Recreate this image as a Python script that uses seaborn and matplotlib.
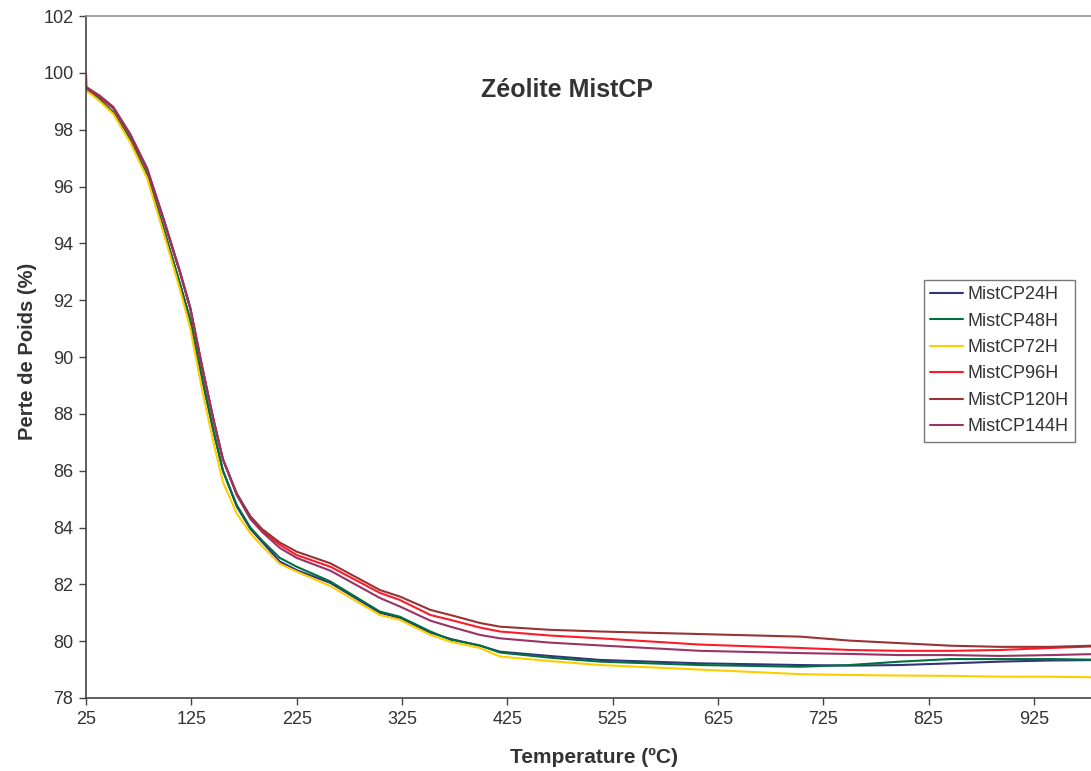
import matplotlib
matplotlib.use("Agg")
import matplotlib.pyplot as plt
import seaborn as sns
import pandas as pd

# ---- data ----
temps = [25, 38, 51, 67, 83, 98, 114, 124, 136, 146, 155, 168, 181, 192, 209, 225,
         257, 304, 323, 352, 371, 399, 418, 465, 513, 608, 703, 750, 798, 846, 893, 940, 1000]

s24 = [99.40, 99.05, 98.60, 97.65, 96.40, 94.60, 92.60, 91.30, 89.10, 87.40, 86.00, 84.75, 83.95, 83.50, 82.80, 82.50,
       82.05, 81.00, 80.82, 80.30, 80.08, 79.84, 79.63, 79.48, 79.34, 79.22, 79.16, 79.14, 79.16, 79.22, 79.28, 79.32, 79.34]
s48 = [99.40, 99.05, 98.60, 97.65, 96.40, 94.60, 92.60, 91.30, 89.10, 87.40, 86.00, 84.80, 84.00, 83.55, 82.93, 82.62,
       82.10, 81.04, 80.86, 80.34, 80.05, 79.85, 79.60, 79.42, 79.28, 79.16, 79.10, 79.16, 79.28, 79.37, 79.37, 79.37, 79.34]
s72 = [99.40, 99.00, 98.55, 97.55, 96.30, 94.45, 92.40, 91.00, 88.70, 87.00, 85.60, 84.50, 83.80, 83.35, 82.72, 82.45,
       81.94, 80.92, 80.75, 80.22, 79.98, 79.76, 79.46, 79.30, 79.16, 79.00, 78.84, 78.81, 78.79, 78.78, 78.75, 78.75, 78.72]
t96 = [25, 25.5] + temps[1:]
s96 = [100.0, 99.50, 99.15, 98.75, 97.80, 96.60, 94.90, 93.00, 91.70, 89.50, 87.80, 86.40, 85.20, 84.35, 83.90, 83.39, 83.03,
       82.62, 81.70, 81.45, 80.92, 80.75, 80.48, 80.34, 80.20, 80.10, 79.88, 79.76, 79.69, 79.66, 79.66, 79.69, 79.76, 79.84]
s120 = [99.45, 99.15, 98.75, 97.80, 96.60, 94.90, 93.00, 91.70, 89.50, 87.80, 86.40, 85.20, 84.40, 83.95, 83.47, 83.15,
        82.74, 81.80, 81.57, 81.10, 80.92, 80.64, 80.51, 80.40, 80.34, 80.25, 80.16, 80.02, 79.93, 79.84, 79.80, 79.80, 79.86]
s144 = [99.50, 99.20, 98.80, 97.85, 96.65, 94.95, 93.05, 91.75, 89.55, 87.80, 86.40, 85.15, 84.30, 83.85, 83.28, 82.93,
        82.48, 81.52, 81.22, 80.72, 80.51, 80.22, 80.10, 79.95, 79.85, 79.66, 79.58, 79.55, 79.51, 79.51, 79.48, 79.51, 79.56]

series_names = ["MistCP24H", "MistCP48H", "MistCP72H", "MistCP96H", "MistCP120H", "MistCP144H"]
series_temps = [temps, temps, temps, t96, temps, temps]
series_vals = [s24, s48, s72, s96, s120, s144]
colors = ["#33337a", "#007040", "#ffcc00", "#ff1a2a", "#993333", "#993366"]

xticks = [25, 125, 225, 325, 425, 525, 625, 725, 825, 925]
yticks = list(range(78, 103, 2))

rows = []
for name, ts, vs in zip(series_names, series_temps, series_vals):
    for i, (t, v) in enumerate(zip(ts, vs)):
        rows.append({"T": t, "P": v, "serie": name, "order": i})
df = pd.DataFrame(rows)

sns.set_theme(style="white")
plt.rcParams["font.family"] = ["Liberation Sans", "DejaVu Sans"]
txt = "#333333"

fig = plt.figure(figsize=(10.91, 7.71), dpi=100)
W = 1113 - 86
H = 698 - 16
ax = fig.add_axes([86 / 1091, 1 - 698 / 771, W / 1091, H / 771])

sns.lineplot(data=df, x="T", y="P", hue="serie", hue_order=series_names,
             palette=dict(zip(series_names, colors)), sort=False, estimator=None,
             units="serie", linewidth=1.5, ax=ax, legend=True)

ax.set_xlim(25, 1000)
ax.set_ylim(78, 102)
ax.set_xticks(xticks)
ax.set_yticks(yticks)
ax.tick_params(axis="both", which="both", direction="out", length=5, width=1,
               color="#444444", labelsize=13, labelcolor=txt, pad=4)
ax.tick_params(left=True, bottom=True)

for side in ["left", "bottom"]:
    ax.spines[side].set_color("#444444")
    ax.spines[side].set_linewidth(1.2)
ax.spines["top"].set_color("#a09090")
ax.spines["top"].set_linewidth(1.2)
ax.spines["right"].set_color("#a09090")

ax.set_xlabel("Temperature (ºC)", fontsize=15, fontweight="bold", color=txt)
ax.set_ylabel("Perte de Poids (%)", fontsize=14.5, fontweight="bold", color=txt)
ax.xaxis.label.set_va("center")
ax.yaxis.label.set_va("center")
ax.xaxis.set_label_coords((594 - 86) / W, -(757 - 698) / H)
ax.yaxis.set_label_coords(-(86 - 28) / W, (698 - 351) / H)

ax.text((567 - 86) / W, (698 - 90) / H, "Zéolite MistCP", transform=ax.transAxes,
        ha="center", va="center", fontsize=18, fontweight="bold", color=txt)

handles, labels = ax.get_legend_handles_labels()
leg = ax.legend(handles, labels, loc="upper left", bbox_to_anchor=(924 / 1091, 1 - 280 / 771),
                bbox_transform=fig.transFigure, borderaxespad=0, frameon=True, fancybox=False,
                fontsize=13, handlelength=1.8, handletextpad=0.25, labelspacing=0.52,
                borderpad=0.35)
leg.get_frame().set_edgecolor("#555555")
leg.get_frame().set_linewidth(1.0)
for t in leg.get_texts():
    t.set_color(txt)
for l in leg.get_lines():
    l.set_linewidth(1.5)

fig.savefig("out.png", dpi=100)
